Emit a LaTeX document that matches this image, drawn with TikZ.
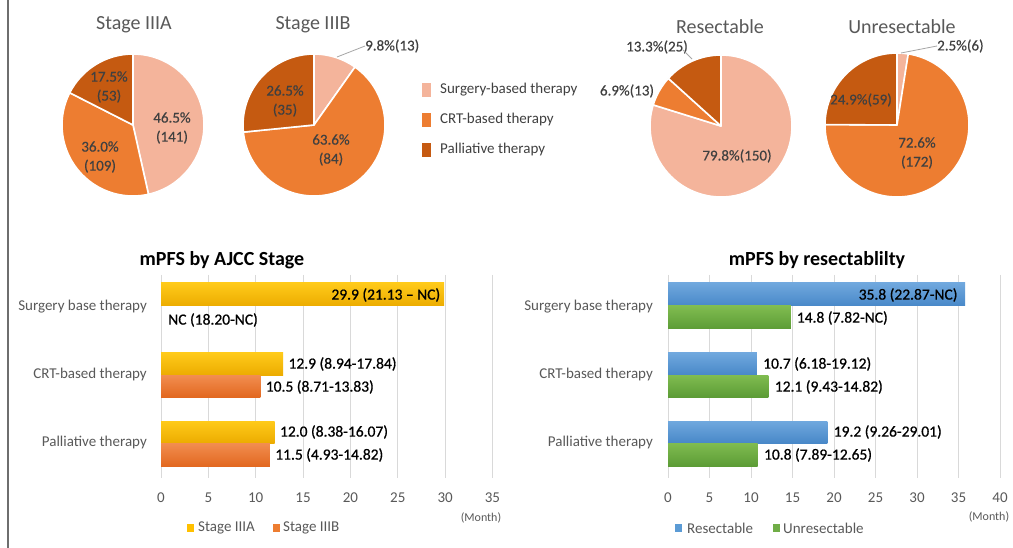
\documentclass[tikz,border=0pt]{standalone}
\usepackage{fontspec}
\setmainfont{Carlito}
\newfontfamily\semibold[FakeBold=0.8,Ligatures=TeX]{Carlito}
\newfontfamily\lightbold[FakeBold=0.4,Ligatures=TeX]{Carlito}
\definecolor{csurg}{HTML}{F4B49B}
\definecolor{ccrt}{HTML}{ED7D31}
\definecolor{cpal}{HTML}{C55A11}
\definecolor{tgray}{HTML}{595959}
\definecolor{dgray}{HTML}{404040}
\definecolor{lgray}{HTML}{D9D9D9}
\definecolor{lead}{HTML}{A6A6A6}
\definecolor{frame}{HTML}{6E6E6E}
\definecolor{goldT}{HTML}{FFCA1A}
\definecolor{goldB}{HTML}{ECAC00}
\definecolor{goldL}{HTML}{FFC000}
\definecolor{orT}{HTML}{F28E50}
\definecolor{orB}{HTML}{E26820}
\definecolor{blT}{HTML}{70A8DE}
\definecolor{blB}{HTML}{4888C8}
\definecolor{blL}{HTML}{5B9BD5}
\definecolor{grT}{HTML}{80BC50}
\definecolor{grB}{HTML}{5C9C36}
\definecolor{grL}{HTML}{70AD47}
\begin{document}
\begin{tikzpicture}[x=1pt,y=1pt,
  font=\fontsize{15}{18}\selectfont,
  slice/.style={draw=white,line width=1.6pt,line join=round},
  pietitle/.style={font=\fontsize{20}{24}\selectfont,text=tgray,inner sep=0pt},
  pielab/.style={font=\lightbold\fontsize{15}{19}\selectfont,text=dgray,align=center,inner sep=0pt},
  legtext/.style={anchor=west,text=dgray,inner sep=0pt},
  cat/.style={anchor=east,text=tgray,inner sep=0pt},
  val/.style={anchor=west,text=black,inner sep=0pt,font=\semibold\fontsize{15.5}{18}\selectfont},
  valin/.style={anchor=east,text=black,inner sep=0pt,font=\semibold\fontsize{15.5}{18}\selectfont},
  tick/.style={text=tgray,inner sep=0pt},
  month/.style={text=tgray,font=\fontsize{12}{14}\selectfont,inner sep=0pt},
  ctitle/.style={font=\bfseries\fontsize{20}{24}\selectfont,text=black,inner sep=0pt},
  grid/.style={draw=lgray,line width=0.8pt},
  leader/.style={draw=lead,line width=0.8pt},
  barA/.style={top color=goldT,bottom color=goldB,draw=none},
  barB/.style={top color=orT,bottom color=orB,draw=none},
  barR/.style={top color=blT,bottom color=blB,draw=none},
  barU/.style={top color=grT,bottom color=grB,draw=none}
]
\useasboundingbox (0,0) rectangle (1013,-548);
\fill[white] (0,0) rectangle (1013,-548);
\draw[frame,line width=2pt] (8,0) -- (8,-548);

% ---------- Pie: Stage IIIA ----------
\node[pietitle] (tA) at (134,-25) {Stage IIIA};
\coordinate (cA) at (133,-125);
\filldraw[slice,fill=csurg] (cA) -- ++(90:71) arc[start angle=90,end angle=-77.4,radius=71] -- cycle;
\filldraw[slice,fill=ccrt] (cA) -- ++(-77.4:71) arc[start angle=-77.4,end angle=-207,radius=71] -- cycle;
\filldraw[slice,fill=cpal] (cA) -- ++(-207:71) arc[start angle=-207,end angle=-270,radius=71] -- cycle;
\node[pielab] (lA1) at (172,-128) {46.5\%\\(141)};
\node[pielab] (lA2) at (100,-157) {36.0\%\\(109)};
\node[pielab] (lA3) at (109,-87) {17.5\%\\(53)};

% ---------- Pie: Stage IIIB ----------
\node[pietitle] (tB) at (313,-25) {Stage IIIB};
\coordinate (cB) at (314,-125);
\filldraw[slice,fill=csurg] (cB) -- ++(90:71) arc[start angle=90,end angle=54.72,radius=71] -- cycle;
\filldraw[slice,fill=ccrt] (cB) -- ++(54.72:71) arc[start angle=54.72,end angle=-174.24,radius=71] -- cycle;
\filldraw[slice,fill=cpal] (cB) -- ++(-174.24:71) arc[start angle=-174.24,end angle=-270,radius=71] -- cycle;
\node[pielab] (lB2) at (331,-150) {63.6\%\\(84)};
\node[pielab] (lB3) at (285,-101) {26.5\%\\(35)};
\node[pielab,anchor=west] (lB1) at (365,-46) {9.8\%(13)};
\coordinate (pB1) at (337,-57);
\draw[leader] (pB1) -- (lB1.west);

% ---------- Legend ----------
\fill[csurg] (422,-83) rectangle (431,-97);
\fill[ccrt] (422,-113) rectangle (431,-127);
\fill[cpal] (422,-143) rectangle (431,-157);
\node[legtext] (lg1) at (440,-90) {Surgery-based therapy};
\node[legtext] (lg2) at (440,-120) {CRT-based therapy};
\node[legtext] (lg3) at (440,-150) {Palliative therapy};

% ---------- Pie: Resectable ----------
\node[pietitle] (tR) at (720,-27) {Resectable};
\coordinate (cR) at (721,-126);
\filldraw[slice,fill=csurg] (cR) -- ++(90:71) arc[start angle=90,end angle=-197.28,radius=71] -- cycle;
\filldraw[slice,fill=ccrt] (cR) -- ++(-197.28:71) arc[start angle=-197.28,end angle=-222.12,radius=71] -- cycle;
\filldraw[slice,fill=cpal] (cR) -- ++(-222.12:71) arc[start angle=-222.12,end angle=-270,radius=71] -- cycle;
\node[pielab] (lR1) at (737,-156) {79.8\%(150)};
\node[pielab] (lR2) at (627,-91) {6.9\%(13)};
\node[pielab] (lR3) at (657,-47) {13.3\%(25)};
\coordinate (pR3) at (692,-59);
\coordinate (qR3) at (683,-50);
\draw[leader] (qR3) -- (pR3);

% ---------- Pie: Unresectable ----------
\node[pietitle] (tU) at (902,-27) {Unresectable};
\coordinate (cU) at (897,-125);
\filldraw[slice,fill=csurg] (cU) -- ++(90:72) arc[start angle=90,end angle=81,radius=72] -- cycle;
\filldraw[slice,fill=ccrt] (cU) -- ++(81:72) arc[start angle=81,end angle=-180.36,radius=72] -- cycle;
\filldraw[slice,fill=cpal] (cU) -- ++(-180.36:72) arc[start angle=-180.36,end angle=-270,radius=72] -- cycle;
\node[pielab] (lU2) at (917,-153) {72.6\%\\(172)};
\node[pielab] (lU3) at (861,-100) {24.9\%(59)};
\node[pielab,anchor=west] (lU1) at (937,-46) {2.5\%(6)};
\coordinate (pU1) at (901,-53);
\draw[leader] (pU1) -- (lU1.west);

% ---------- Bar chart: AJCC stage ----------
\node[ctitle] (ttA) at (222,-260) {mPFS by AJCC Stage};
\begin{scope}[shift={(161,0)},x=9.47pt]
  \foreach \v in {0,5,...,35} {
    \draw[grid] (\v,-275) -- (\v,-478);
    \node[tick] (tkA\v) at (\v,-498) {\v};
  }
  \path[barA] (0,-283) rectangle (29.9,-306);
  \path[barA] (0,-353) rectangle (12.9,-375);
  \path[barB] (0,-375) rectangle (10.5,-397);
  \path[barA] (0,-421) rectangle (12.0,-443);
  \path[barB] (0,-443) rectangle (11.5,-466);
  \node[valin] (vA1) at (29.5,-295) {29.9 (21.13 – NC)};
  \node[val] (vA2) at (0.75,-320) {NC (18.20-NC)};
  \node[val] (vA3) at (13.45,-364) {12.9 (8.94-17.84)};
  \node[val] (vA4) at (11.05,-387) {10.5 (8.71-13.83)};
  \node[val] (vA5) at (12.55,-432) {12.0 (8.38-16.07)};
  \node[val] (vA6) at (12.05,-455) {11.5 (4.93-14.82)};
\end{scope}
\node[cat] (cA1) at (147,-307) {Surgery base therapy};
\node[cat] (cA2) at (147,-375) {CRT-based therapy};
\node[cat] (cA3) at (147,-443) {Palliative therapy};
\node[month] (mA) at (481,-518) {(Month)};
\fill[goldL] (187,-524) rectangle (194,-532);
\node[legtext,text=tgray] (lgA1) at (198,-528) {Stage IIIA};
\fill[ccrt] (273,-524) rectangle (280,-532);
\node[legtext,text=tgray] (lgA2) at (283,-528) {Stage IIIB};

% ---------- Bar chart: resectability ----------
\node[ctitle] (ttR) at (817,-260) {mPFS by resectablilty};
\begin{scope}[shift={(668,0)},x=8.3pt]
  \foreach \v in {0,5,...,40} {
    \draw[grid] (\v,-275) -- (\v,-478);
    \node[tick] (tkR\v) at (\v,-498) {\v};
  }
  \path[barR] (0,-283) rectangle (35.8,-306);
  \path[barU] (0,-306) rectangle (14.8,-329);
  \path[barR] (0,-353) rectangle (10.7,-375);
  \path[barU] (0,-375) rectangle (12.1,-397);
  \path[barR] (0,-421) rectangle (19.2,-443);
  \path[barU] (0,-443) rectangle (10.8,-466);
  \node[valin] (vR1) at (34.9,-295) {35.8 (22.87-NC)};
  \node[val] (vR2) at (15.5,-318) {14.8 (7.82-NC)};
  \node[val] (vR3) at (11.45,-364) {10.7 (6.18-19.12)};
  \node[val] (vR4) at (12.85,-387) {12.1 (9.43-14.82)};
  \node[val] (vR5) at (19.95,-432) {19.2 (9.26-29.01)};
  \node[val] (vR6) at (11.55,-455) {10.8 (7.89-12.65)};
\end{scope}
\node[cat] (cR1) at (653,-307) {Surgery base therapy};
\node[cat] (cR2) at (653,-375) {CRT-based therapy};
\node[cat] (cR3) at (653,-443) {Palliative therapy};
\node[month] (mR) at (989,-517) {(Month)};
\fill[blL] (675,-524) rectangle (682,-532);
\node[legtext,text=tgray] (lgR1) at (687,-528) {Resectable};
\fill[grL] (773,-524) rectangle (780,-532);
\node[legtext,text=tgray] (lgR2) at (783,-528) {Unresectable};
\end{tikzpicture}
\end{document}
